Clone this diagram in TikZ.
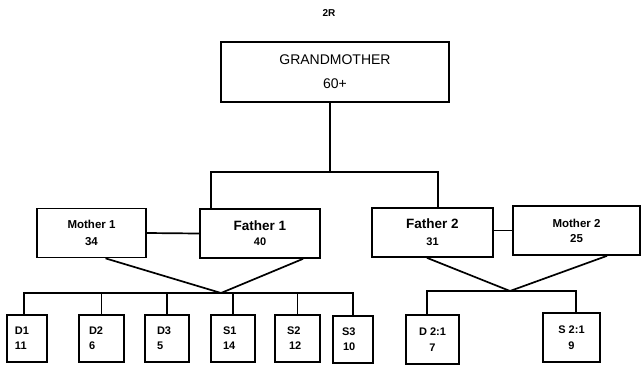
\documentclass[tikz,border=0pt]{standalone}
\usepackage{fontspec}
\setmainfont{Liberation Sans}
\usetikzlibrary{calc}
\begin{document}
\begin{tikzpicture}[x=1pt,y=-1pt,
  link/.style={line width=1.7pt},
  box/.style={draw, line width=1.7pt, inner sep=0pt, align=center},
  kid/.style={box, align=left, inner ysep=0pt, minimum height=47,
    font=\bfseries\fontsize{11}{15}\selectfont},
  kidc/.style={box, minimum height=49,
    font=\bfseries\fontsize{11}{16}\selectfont},
  parent/.style={box, minimum height=49},
]
\useasboundingbox (0,0) rectangle (643,368);

% heading
\node[font=\bfseries\fontsize{10}{12}\selectfont] (title) at (329,13) {2R};

% grandmother
\node[box, minimum width=228, minimum height=60,
      font=\fontsize{14}{24}\selectfont] (gm) at (335,72) {GRANDMOTHER\\60+};

% parents
\node[parent, minimum width=109,
      font=\bfseries\fontsize{11.5}{17}\selectfont] (m1) at (91.5,233) {Mother 1\\34};
\node[parent, minimum width=120,
      font=\bfseries\fontsize{13.5}{15}\selectfont] (f1) at (260,233.5) {Father 1\\{\fontsize{11}{13}\selectfont 40}};
\node[parent, minimum width=121,
      font=\bfseries\fontsize{13.5}{17}\selectfont] (f2) at (432.5,232.5) {Father 2\\{\fontsize{11}{13}\selectfont 31}};
\node[parent, minimum width=127,
      font=\bfseries\fontsize{11.5}{15}\selectfont] (m2) at (576.5,230.5) {Mother 2\\25};

% children of family 1
\node[kid, text width=24, inner xsep=8]  (d1) at (27,338.5)  {D1\\11};
\node[kid, text width=25, inner xsep=10] (d2) at (101.5,338.5) {D2\\6};
\node[kid, text width=20, inner xsep=12] (d3) at (167,338.5) {D3\\5};
\node[kid, text width=20, inner xsep=12] (s1) at (233,338.5) {S1\\14};
\node[kid, text width=21, inner xsep=12] (s2) at (297.5,338.5) {S2\\\hspace*{2pt}12};
\node[kid, text width=22, inner xsep=9]  (s3) at (353,339.5) {S3\\\hspace*{1pt}10};

% children of family 2
\node[kidc, minimum width=53] (k1) at (432.5,339.5) {D 2:1\\7};
\node[kidc, minimum width=57] (k2) at (571.5,337.5) {S 2:1\\9};

% grandmother down to the two fathers
\coordinate (stem) at (330,172);
\coordinate (lb) at (211,172);
\coordinate (rb) at (438,172);
\draw[link] (gm.south -| stem) -- (stem);
\draw[link] (f1.north -| lb) -- (lb) -- (rb) -- (f2.north -| rb);

% couples
\draw[link] (m1.east) -- (f1.west);
\draw[link] (f2.east |- m2.west) -- (m2.west);

% family 1 descent
\coordinate (j1) at (221,293);
\coordinate (m1foot) at ($(m1.south)+(14,0)$);
\coordinate (f1foot) at ($(f1.south)+(43,0)$);
\coordinate (d1top) at ($(d1.north)+(-3,0)$);
\draw[link] (m1foot) -- (j1) -- (f1foot);
\draw[link] (d1top) -- (d1top |- j1) -- (s3.north |- j1) -- (s3.north);
\draw[link] (d2.north) -- (d2.north |- j1);
\draw[link] (d3.north) -- (d3.north |- j1);
\draw[link] (s1.north) -- (s1.north |- j1);
\draw[link] (s2.north) -- (s2.north |- j1);

% family 2 descent
\coordinate (j2) at (510,291);
\coordinate (f2foot) at ($(f2.south)+(-5.5,0)$);
\coordinate (m2foot) at ($(m2.south)+(30.5,0)$);
\coordinate (k1top) at ($(k1.north)+(-5.5,0)$);
\coordinate (k2top) at ($(k2.north)+(4.5,0)$);
\draw[link] (f2foot) -- (j2) -- (m2foot);
\draw[link] (k1top) -- (k1top |- j2) -- (k2top |- j2) -- (k2top);
\end{tikzpicture}
\end{document}
